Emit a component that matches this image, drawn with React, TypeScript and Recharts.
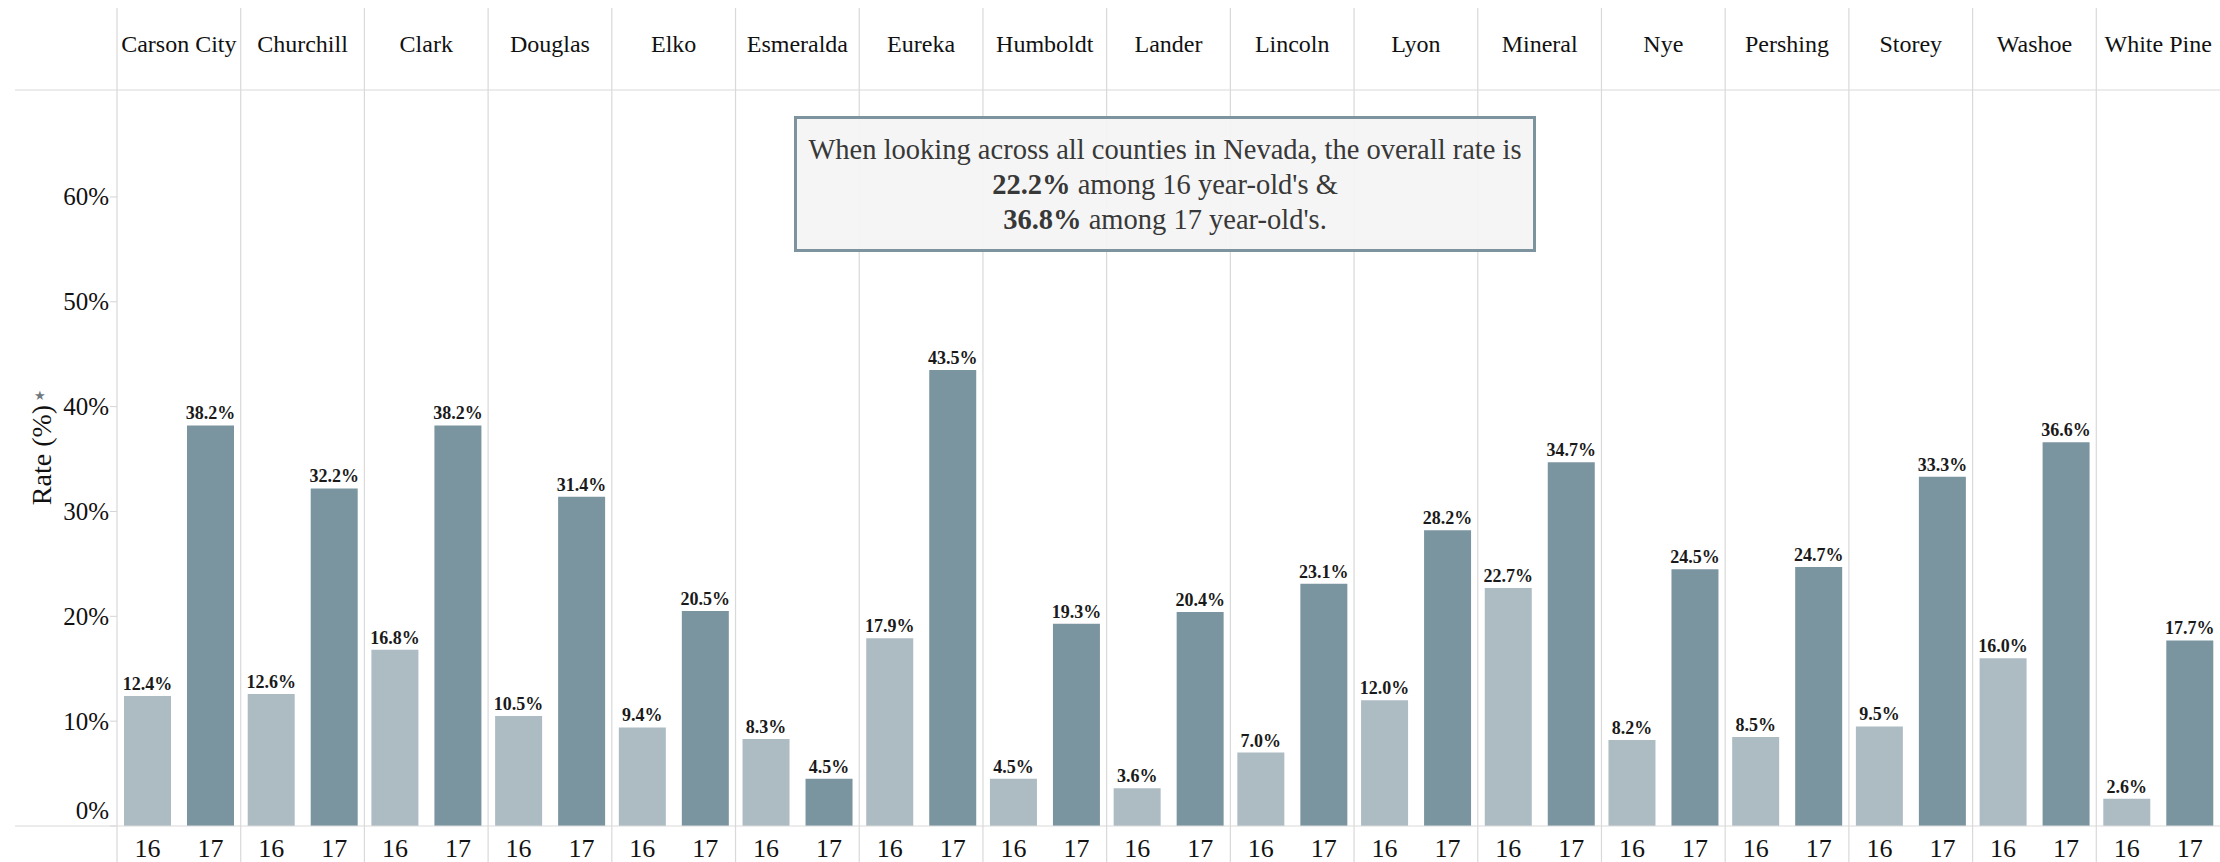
import { BarChart, Bar, XAxis, YAxis, LabelList } from "recharts";

const counties = [
  "Carson City", "Churchill", "Clark", "Douglas", "Elko", "Esmeralda", "Eureka", "Humboldt", "Lander",
  "Lincoln", "Lyon", "Mineral", "Nye", "Pershing", "Storey", "Washoe", "White Pine",
];
const rate16 = [12.4, 12.6, 16.8, 10.5, 9.4, 8.3, 17.9, 4.5, 3.6, 7.0, 12.0, 22.7, 8.2, 8.5, 9.5, 16.0, 2.6];
const rate17 = [38.2, 32.2, 38.2, 31.4, 20.5, 4.5, 43.5, 19.3, 20.4, 23.1, 28.2, 34.7, 24.5, 24.7, 33.3, 36.6, 17.7];
const yTicks = [0, 10, 20, 30, 40, 50, 60];
const ageLabels = ["16", "17"];

const data = counties.map((county, i) => ({ county, r16: rate16[i], r17: rate17[i] }));

const W = 2220;
const H = 862;
const Y_AXIS_W = 117;
const HEADER_H = 90;
const BOTTOM_H = 36;
const BAND = (W - Y_AXIS_W) / counties.length;
const FONT = '"Liberation Serif", "Times New Roman", serif';
const LINE = "#d9d9d9";

function TopTick(props: any) {
  const { x, y, payload, index } = props;
  const left = x - BAND / 2;
  return (
    <g>
      <line x1={left} x2={left} y1={8} y2={H} stroke={LINE} strokeWidth={1.2} />
      {index === 0 && (
        <>
          <line x1={15} x2={W} y1={HEADER_H} y2={HEADER_H} stroke={LINE} strokeWidth={1.2} />
          <line x1={15} x2={W} y1={H - BOTTOM_H} y2={H - BOTTOM_H} stroke={LINE} strokeWidth={1.2} />
        </>
      )}
      <text x={x} y={y - 38} textAnchor="middle" dominantBaseline="central" fontFamily={FONT} fontSize={24} fill="#111">
        {payload.value}
      </text>
    </g>
  );
}

function LeftTick(props: any) {
  const { x, y, payload } = props;
  const dy = payload.value === 0 ? -16 : 0;
  return (
    <text x={x} y={y + dy} textAnchor="end" dominantBaseline="central" fontFamily={FONT} fontSize={25} fill="#111">
      {payload.value}%
    </text>
  );
}

function ageLabel(text: string) {
  return (props: any) => {
    const vb = props.viewBox ?? props;
    const x = (vb.x ?? props.x) + (vb.width ?? props.width) / 2;
    const bottom = (vb.y ?? props.y) + (vb.height ?? props.height);
    return (
      <text x={x} y={bottom + 22} textAnchor="middle" dominantBaseline="central" fontFamily={FONT} fontSize={26} fill="#111">
        {text}
      </text>
    );
  };
}

function RateLabel(props: any) {
  const vb = props.viewBox;
  const cx = vb.x + 41;
  const cy = vb.y + vb.height / 2 - 3;
  return (
    <g>
      <text
        x={cx}
        y={cy}
        transform={`rotate(-90, ${cx}, ${cy})`}
        textAnchor="middle"
        dominantBaseline="central"
        fontFamily={FONT}
        fontSize={28}
        fill="#111"
      >
        Rate (%)
      </text>
      <text x={cx - 1} y={cy - 60} textAnchor="middle" dominantBaseline="central" fontSize={13} fill="#6f7880">
        ★
      </text>
    </g>
  );
}

const valueLabel = { fontFamily: FONT, fontSize: 18, fontWeight: 700, fill: "#1a1a1a" };
const fmt = (v: any) => `${Number(v).toFixed(1)}%`;

export default function App() {
  return (
    <div style={{ position: "absolute", left: 0, top: 0, width: W, height: H, background: "#fff" }}>
      <BarChart
        width={W}
        height={H}
        data={data}
        margin={{ top: 0, right: 0, bottom: BOTTOM_H, left: 0 }}
        barGap={16}
        barSize={47}
      >
        <XAxis
          dataKey="county"
          orientation="top"
          height={HEADER_H}
          interval={0}
          tick={<TopTick />}
          tickLine={false}
          axisLine={false}
        />
        <YAxis
          width={Y_AXIS_W}
          domain={[0, 70.2]}
          ticks={yTicks}
          allowDataOverflow
          axisLine={false}
          tickSize={7}
          tickMargin={1}
          tickLine={{ stroke: "#d4d4d4" }}
          tick={<LeftTick />}
          label={{ content: <RateLabel /> }}
        />
        <Bar dataKey="r16" fill="#adbcc3" isAnimationActive={false}>
          <LabelList dataKey="r16" position="top" offset={6} formatter={fmt} style={valueLabel} />
          <LabelList dataKey="r16" content={ageLabel(ageLabels[0])} />
        </Bar>
        <Bar dataKey="r17" fill="#7b95a0" isAnimationActive={false}>
          <LabelList dataKey="r17" position="top" offset={6} formatter={fmt} style={valueLabel} />
          <LabelList dataKey="r17" content={ageLabel(ageLabels[1])} />
        </Bar>
      </BarChart>
      <div
        style={{
          position: "absolute",
          left: 794,
          top: 116,
          width: 742,
          height: 136,
          boxSizing: "border-box",
          border: "3px solid #7d949f",
          background: "rgba(244,244,244,0.93)",
          display: "flex",
          flexDirection: "column",
          justifyContent: "center",
          alignItems: "center",
          fontFamily: FONT,
          fontSize: 28.5,
          lineHeight: "35px",
          color: "#383838",
          textAlign: "center",
        }}
      >
        <div>When looking across all counties in Nevada, the overall rate is</div>
        <div>
          <b>22.2%</b> among 16 year-old's &amp;
        </div>
        <div>
          <b>36.8%</b> among 17 year-old's.
        </div>
      </div>
    </div>
  );
}
